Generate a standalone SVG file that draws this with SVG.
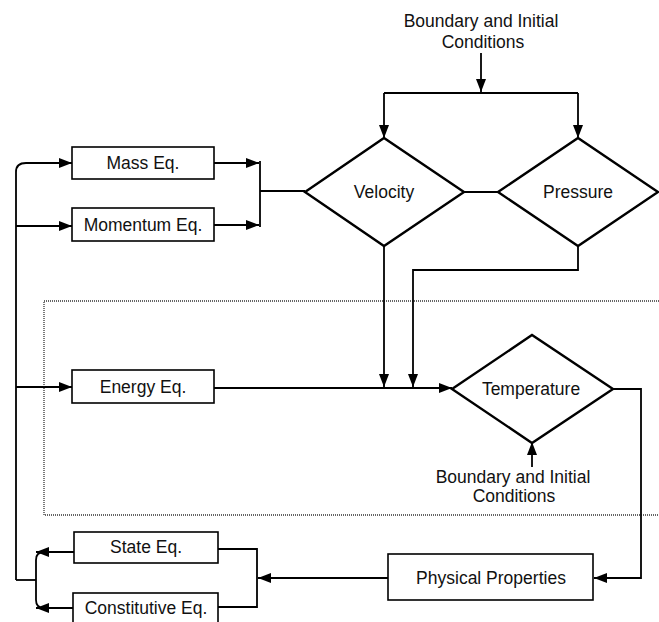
<svg xmlns="http://www.w3.org/2000/svg" width="659" height="622" viewBox="0 0 659 622">
<defs>
<marker id="ah" markerUnits="userSpaceOnUse" markerWidth="14" markerHeight="10" refX="13" refY="5" orient="auto">
<path d="M0,0 L13,5 L0,10 Z" fill="#000"/>
</marker>
<style>
.box{fill:#fff;stroke:#000;stroke-width:1.6}
.dia{fill:#fff;stroke:#000;stroke-width:2.4}
.ln{fill:none;stroke:#000;stroke-width:1.8}
.ar{fill:none;stroke:#000;stroke-width:1.8;marker-end:url(#ah)}
.dot{fill:none;stroke:#333;stroke-width:1.3;stroke-dasharray:1 1}
text{font-family:"Liberation Sans",Arial,sans-serif;font-size:17.5px;fill:#111;text-anchor:middle}
</style>
</defs>
<rect width="659" height="622" fill="#fff"/>
<g id="region">
<path class="dot" d="M659,301 H44 V515 H659"/>
</g>
<g id="connectors">
<path class="ln" d="M16,580 V172 Q16,163 26,163"/>
<path class="ar" d="M26,163 H72"/>
<path class="ar" d="M16,226 H72"/>
<path class="ar" d="M16,387 H72"/>
<path class="ar" d="M214,163 H259"/>
<path class="ar" d="M214,225 H259"/>
<path class="ln" d="M260,161 V227"/>
<path class="ln" d="M260,191 H305"/>
<path class="ar" d="M481,53 V92"/>
<path class="ln" d="M384,93 H578"/>
<path class="ar" d="M384,93 V138"/>
<path class="ar" d="M578,93 V138"/>
<path class="ln" d="M464,192 H498"/>
<path class="ar" d="M384,246 V387"/>
<path class="ar" d="M578,246 V270 H413 V387"/>
<path class="ar" d="M214,388 H452"/>
<path class="ar" d="M532,467 V442"/>
<path class="ar" d="M613,389 H641 V578 H594"/>
<path class="ar" d="M388,578 H258"/>
<path class="ln" d="M218,549 H257 V607 H218"/>
<path class="ln" d="M16,580 H36"/>
<path class="ln" d="M44,552 Q36,552 36,560 V600 Q36,608 44,608"/>
<path class="ar" d="M74,552 H36"/>
<path class="ar" d="M73,608 H36"/>
</g>
<g id="mass">
<rect class="box" x="72" y="147" width="142" height="32"/>
<text x="143" y="169">Mass Eq.</text>
</g>
<g id="momentum">
<rect class="box" x="72" y="208" width="142" height="33"/>
<text x="143" y="231">Momentum Eq.</text>
</g>
<g id="energy">
<rect class="box" x="72" y="370" width="142" height="33"/>
<text x="143" y="393">Energy Eq.</text>
</g>
<g id="velocity">
<polygon class="dia" points="305,192 384,138 464,192 384,246"/>
<text x="384" y="198">Velocity</text>
</g>
<g id="pressure">
<polygon class="dia" points="498,192 578,138 658,192 578,246"/>
<text x="578" y="198">Pressure</text>
</g>
<g id="temperature">
<polygon class="dia" points="452,389 532,335 613,389 532,443"/>
<text x="531" y="395">Temperature</text>
</g>
<g id="bc-top">
<text x="481" y="27">Boundary and Initial</text>
<text x="483" y="48">Conditions</text>
</g>
<g id="bc-temp">
<text x="513" y="483">Boundary and Initial</text>
<text x="514" y="502">Conditions</text>
</g>
<g id="physical">
<rect class="box" x="388" y="554" width="205" height="46"/>
<text x="491" y="584">Physical Properties</text>
</g>
<g id="state">
<rect class="box" x="74" y="532" width="144" height="31"/>
<text x="146" y="553">State Eq.</text>
</g>
<g id="constitutive">
<rect class="box" x="73" y="593" width="145" height="33"/>
<text x="146" y="614">Constitutive Eq.</text>
</g>
</svg>
